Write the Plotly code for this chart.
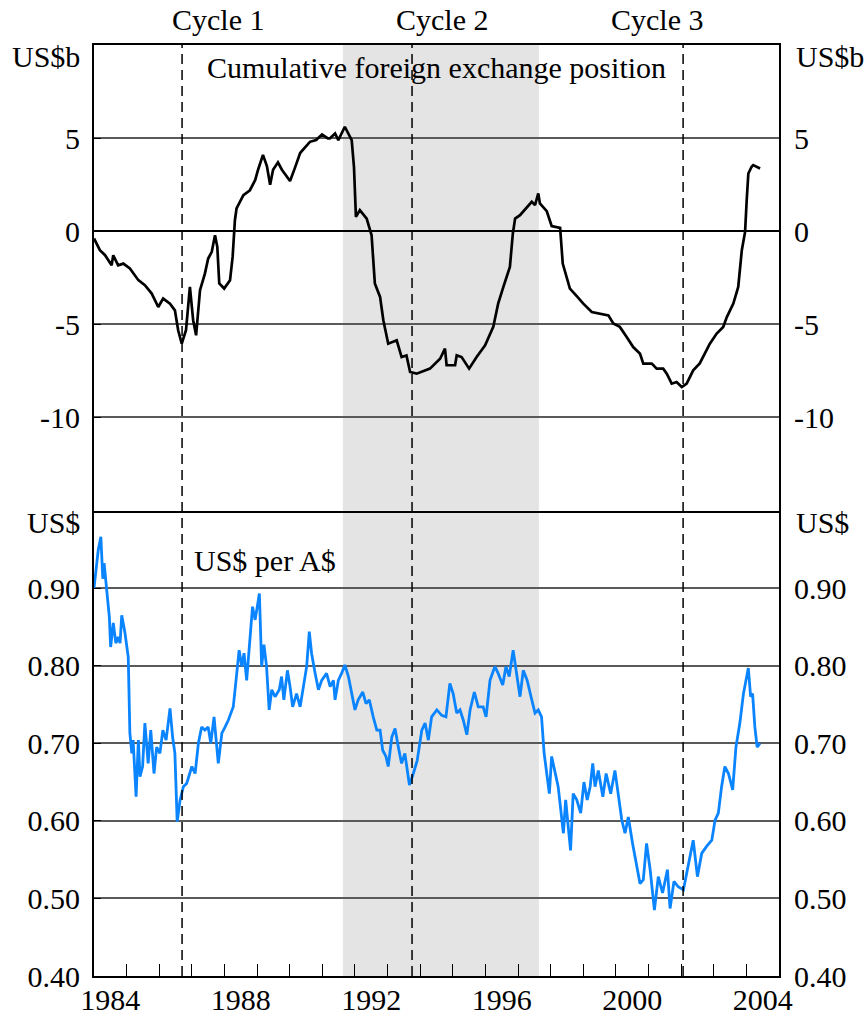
import plotly.graph_objects as go
from plotly.subplots import make_subplots

# ---------------- data ----------------
fx_years = [1984.00, 1984.18, 1984.34, 1984.54, 1984.59, 1984.74, 1984.90, 1985.10, 1985.36, 1985.56,
            1985.77, 1985.97, 1986.12, 1986.33, 1986.48, 1986.58, 1986.69, 1986.82, 1986.94, 1987.04,
            1987.13, 1987.25, 1987.40, 1987.50, 1987.61, 1987.71, 1987.78, 1987.84, 1987.99, 1988.17,
            1988.25, 1988.32, 1988.37, 1988.58, 1988.78, 1988.94, 1989.03, 1989.18, 1989.30, 1989.40,
            1989.49, 1989.64, 1989.76, 1990.01, 1990.16, 1990.32, 1990.47, 1990.62, 1990.81, 1990.99,
            1991.17, 1991.23, 1991.39, 1991.49, 1991.69, 1991.90, 1991.97, 1992.03, 1992.15, 1992.36,
            1992.51, 1992.61, 1992.77, 1992.87, 1993.02, 1993.28, 1993.43, 1993.58, 1993.69, 1993.89,
            1994.30, 1994.61, 1994.76, 1994.81, 1995.07, 1995.12, 1995.27, 1995.50, 1995.73, 1995.99,
            1996.24, 1996.39, 1996.55, 1996.75, 1996.84, 1996.91, 1997.06, 1997.27, 1997.42, 1997.52,
            1997.62, 1997.67, 1997.88, 1998.03, 1998.29, 1998.37, 1998.59, 1998.80, 1999.00, 1999.26,
            1999.51, 1999.77, 1999.92, 2000.12, 2000.33, 2000.53, 2000.74, 2000.84, 2001.10, 2001.25,
            2001.45, 2001.56, 2001.71, 2001.86, 2002.02, 2002.17, 2002.37, 2002.57, 2002.88, 2003.09,
            2003.29, 2003.40, 2003.60, 2003.75, 2003.86, 2003.96, 2004.01, 2004.06, 2004.16, 2004.21,
            2004.42]
fx_position = [-0.39, -1.02, -1.29, -1.83, -1.29, -1.83, -1.74, -2.00, -2.63, -2.90,
               -3.35, -4.07, -3.62, -3.89, -4.25, -5.32, -6.04, -5.32, -2.99, -4.78,
               -5.59, -3.17, -2.28, -1.47, -1.11, -0.22, -0.84, -2.81, -3.08, -2.63,
               -1.38, 0.59, 1.22, 1.94, 2.20, 2.74, 3.30, 4.10, 3.50, 2.50,
               3.30, 3.70, 3.30, 2.70, 3.40, 4.20, 4.50, 4.80, 4.90, 5.20,
               4.98, 4.98, 5.25, 4.89, 5.61, 4.89, 3.46, 0.77, 1.13, 0.68,
               -0.22, -2.81, -3.53, -4.78, -6.04, -5.86, -6.76, -6.67, -7.56, -7.65,
               -7.38, -6.85, -6.31, -7.20, -7.20, -6.67, -6.76, -7.38, -6.76, -6.13,
               -5.14, -3.89, -2.99, -1.92, -0.13, 0.68, 0.86, 1.31, 1.58, 1.40,
               2.03, 1.49, 1.08, 0.28, 0.18, -1.74, -3.08, -3.49, -3.89, -4.34,
               -4.43, -4.52, -4.96, -5.14, -5.68, -6.22, -6.58, -7.11, -7.11, -7.38,
               -7.38, -7.65, -8.19, -8.10, -8.37, -8.19, -7.47, -7.10, -6.04, -5.50,
               -5.14, -4.61, -3.89, -2.99, -1.02, -0.04, 1.67, 3.10, 3.46, 3.55,
               3.37]

aud_years = [1984.00, 1984.08, 1984.13, 1984.21, 1984.27, 1984.31, 1984.39, 1984.47, 1984.51, 1984.59,
             1984.67, 1984.74, 1984.80, 1984.85, 1984.95, 1985.05, 1985.10, 1985.16, 1985.20, 1985.29,
             1985.36, 1985.41, 1985.49, 1985.56, 1985.66, 1985.74, 1985.84, 1985.92, 1986.02, 1986.11,
             1986.21, 1986.33, 1986.41, 1986.48, 1986.55, 1986.64, 1986.74, 1986.84, 1987.00, 1987.10,
             1987.20, 1987.30, 1987.40, 1987.50, 1987.58, 1987.68, 1987.81, 1987.92, 1988.02, 1988.12,
             1988.27, 1988.37, 1988.45, 1988.53, 1988.60, 1988.68, 1988.78, 1988.86, 1988.94, 1988.99,
             1989.07, 1989.14, 1989.21, 1989.29, 1989.37, 1989.45, 1989.55, 1989.68, 1989.75, 1989.82,
             1989.93, 1990.01, 1990.09, 1990.21, 1990.32, 1990.42, 1990.52, 1990.60, 1990.67, 1990.78,
             1990.88, 1990.98, 1991.13, 1991.24, 1991.34, 1991.39, 1991.49, 1991.59, 1991.69, 1991.80,
             1991.90, 1992.00, 1992.10, 1992.24, 1992.34, 1992.44, 1992.56, 1992.67, 1992.77, 1992.85,
             1992.95, 1993.02, 1993.13, 1993.23, 1993.33, 1993.43, 1993.53, 1993.67, 1993.79, 1993.91,
             1994.05, 1994.15, 1994.25, 1994.35, 1994.51, 1994.66, 1994.79, 1994.91, 1995.01, 1995.12,
             1995.22, 1995.32, 1995.43, 1995.53, 1995.66, 1995.78, 1995.93, 1996.02, 1996.14, 1996.29,
             1996.39, 1996.53, 1996.63, 1996.73, 1996.85, 1996.96, 1997.06, 1997.16, 1997.28, 1997.42,
             1997.52, 1997.62, 1997.72, 1997.80, 1997.88, 1997.96, 1998.03, 1998.13, 1998.23, 1998.39,
             1998.46, 1998.54, 1998.61, 1998.69, 1998.80, 1998.92, 1999.02, 1999.12, 1999.21, 1999.29,
             1999.36, 1999.46, 1999.60, 1999.70, 1999.84, 1999.97, 2000.07, 2000.18, 2000.28, 2000.38,
             2000.51, 2000.64, 2000.74, 2000.84, 2000.94, 2001.05, 2001.18, 2001.30, 2001.43, 2001.58,
             2001.66, 2001.78, 2001.91, 2002.07, 2002.22, 2002.37, 2002.50, 2002.63, 2002.78, 2002.94,
             2003.04, 2003.14, 2003.24, 2003.34, 2003.45, 2003.58, 2003.68, 2003.80, 2003.91, 2003.99,
             2004.06, 2004.13, 2004.19, 2004.26, 2004.33, 2004.42]
aud_usd = [0.900, 0.936, 0.949, 0.966, 0.912, 0.932, 0.893, 0.863, 0.824, 0.855,
           0.829, 0.837, 0.829, 0.865, 0.842, 0.811, 0.713, 0.687, 0.704, 0.631,
           0.704, 0.657, 0.670, 0.726, 0.674, 0.717, 0.661, 0.695, 0.687, 0.717,
           0.704, 0.745, 0.708, 0.687, 0.599, 0.627, 0.644, 0.648, 0.670, 0.661,
           0.700, 0.721, 0.717, 0.721, 0.700, 0.734, 0.674, 0.713, 0.721, 0.730,
           0.747, 0.786, 0.820, 0.799, 0.816, 0.781, 0.829, 0.876, 0.859, 0.872,
           0.893, 0.799, 0.827, 0.799, 0.743, 0.769, 0.760, 0.769, 0.786, 0.756,
           0.794, 0.773, 0.747, 0.764, 0.747, 0.773, 0.799, 0.844, 0.816, 0.790,
           0.769, 0.781, 0.790, 0.773, 0.781, 0.756, 0.781, 0.790, 0.801, 0.786,
           0.764, 0.743, 0.756, 0.766, 0.751, 0.756, 0.734, 0.717, 0.717, 0.691,
           0.683, 0.670, 0.708, 0.719, 0.695, 0.674, 0.687, 0.646, 0.661, 0.678,
           0.717, 0.726, 0.704, 0.734, 0.743, 0.736, 0.734, 0.777, 0.764, 0.739,
           0.743, 0.730, 0.711, 0.743, 0.766, 0.747, 0.747, 0.734, 0.781, 0.799,
           0.790, 0.775, 0.799, 0.786, 0.820, 0.790, 0.760, 0.794, 0.781, 0.756,
           0.739, 0.743, 0.734, 0.687, 0.661, 0.635, 0.683, 0.661, 0.644, 0.584,
           0.627, 0.592, 0.562, 0.635, 0.627, 0.610, 0.650, 0.627, 0.644, 0.674,
           0.644, 0.665, 0.631, 0.661, 0.635, 0.665, 0.635, 0.601, 0.584, 0.605,
           0.571, 0.541, 0.519, 0.524, 0.571, 0.537, 0.485, 0.528, 0.507, 0.537,
           0.487, 0.522, 0.515, 0.511, 0.541, 0.575, 0.528, 0.558, 0.567, 0.575,
           0.601, 0.610, 0.644, 0.670, 0.661, 0.640, 0.695, 0.726, 0.764, 0.781,
           0.797, 0.760, 0.764, 0.721, 0.695, 0.700]

cycle_years = [1986.70, 1993.75, 2002.06]
cycle_labels = ["Cycle 1", "Cycle 2", "Cycle 3"]
cycle_label_years = [1987.80, 1994.67, 2001.26]
shade_start, shade_end = 1991.63, 1997.64

top_tickvals = [5, 0, -5, -10]
top_ticktext = ["5", "0", "-5", "-10"]
bot_tickvals = [0.9, 0.8, 0.7, 0.6, 0.5, 0.4]
bot_ticktext = ["0.90", "0.80", "0.70", "0.60", "0.50", "0.40"]
year_labels = [1984, 1988, 1992, 1996, 2000, 2004]
year_ticks = list(range(1985, 2005))

# ---------------- figure ----------------
FONT = "Liberation Serif"
FS = 30
GRID = "#5a5a5a"

fig = make_subplots(rows=2, cols=1, shared_xaxes=True, vertical_spacing=0)

fig.add_trace(go.Scatter(x=fx_years, y=fx_position, mode="lines",
                         line=dict(color="black", width=2.7), showlegend=False,
                         hoverinfo="skip"), row=1, col=1)
fig.add_trace(go.Scatter(x=aud_years, y=aud_usd, mode="lines",
                         line=dict(color="#0a84ff", width=2.8), showlegend=False,
                         hoverinfo="skip"), row=2, col=1)
# empty traces so the right-hand mirror axes get drawn
fig.add_trace(go.Scatter(x=[], y=[], xaxis="x", yaxis="y3", showlegend=False,
                         hoverinfo="skip"))
fig.add_trace(go.Scatter(x=[], y=[], xaxis="x2", yaxis="y4", showlegend=False,
                         hoverinfo="skip"))

common_x = dict(range=[1984, 2005], showline=True, linecolor="black", linewidth=2,
                showgrid=False, zeroline=False, automargin=False)
# top x axis: line at panel bottom (divider) and mirrored at the top
fig.update_xaxes(**common_x, mirror=True, showticklabels=False, ticks="", row=1, col=1)
# bottom x axis: only its own bottom line (divider comes from the top axis)
fig.update_xaxes(**common_x, mirror=False, tickmode="array",
                 tickvals=[y + 0.5 for y in year_labels],
                 ticktext=[str(y) for y in year_labels],
                 ticks="", ticklabelstandoff=-4,
                 minor=dict(tickmode="array", tickvals=year_ticks, ticks="inside",
                            ticklen=12, tickcolor="black", tickwidth=1.2, showgrid=False),
                 row=2, col=1)

common_y = dict(showline=True, linecolor="black", linewidth=2, mirror=True,
                showgrid=True, gridcolor=GRID, gridwidth=1.5, automargin=False,
                ticks="inside", ticklen=7, tickcolor="black", ticklabelstandoff=6)
fig.update_yaxes(**common_y, range=[-15, 10], tickmode="array",
                 tickvals=top_tickvals, ticktext=top_ticktext,
                 zeroline=True, zerolinecolor="black", zerolinewidth=2, row=1, col=1)
fig.update_yaxes(**common_y, range=[0.4, 1.0], tickmode="array",
                 tickvals=bot_tickvals, ticktext=bot_ticktext,
                 zeroline=False, row=2, col=1)

fig.update_layout(
    yaxis3=dict(overlaying="y", side="right", anchor="x", range=[-15, 10],
                tickmode="array", tickvals=top_tickvals, ticktext=top_ticktext,
                showgrid=False, zeroline=False, showline=False, ticks="",
                ticklabelstandoff=14, automargin=False),
    yaxis4=dict(overlaying="y2", side="right", anchor="x2", range=[0.4, 1.0],
                tickmode="array", tickvals=bot_tickvals, ticktext=bot_ticktext,
                showgrid=False, zeroline=False, showline=False, ticks="",
                ticklabelstandoff=14, automargin=False),
)

shapes = []
for xr, yr in (("x", "y domain"), ("x2", "y2 domain")):
    shapes.append(dict(type="rect", xref=xr, yref=yr, x0=shade_start, x1=shade_end,
                       y0=0, y1=1, fillcolor="#e4e4e4", line=dict(width=0), layer="below"))
for cy in cycle_years:
    shapes.append(dict(type="line", xref="x", yref="paper", x0=cy, x1=cy, y0=0, y1=1,
                       line=dict(color="black", width=1.5, dash="10px,6px"), layer="above"))

annotations = []
for lbl, lx in zip(cycle_labels, cycle_label_years):
    annotations.append(dict(text=lbl, x=lx, xref="x", y=20, yref="paper",
                            showarrow=False, xanchor="center", yanchor="middle"))
anns_px = [
    ("US$b", 82, 56, "right"),
    ("US$b", 794, 56, "left"),
    ("US$", 82, 522, "right"),
    ("US$", 794, 522, "left"),
    ("Cumulative foreign exchange position", 436, 68, "center"),
    ("US$ per A$", 265, 561, "center"),
]
for txt, px, py, xa in anns_px:
    annotations.append(dict(text=txt, x=px, y=py, showarrow=False, xanchor=xa,
                            yanchor="middle", xref="paper", yref="paper"))

# convert pixel positions of annotations into paper coordinates
L, R, T, B, W, H = 94, 87, 45, 42, 866, 1018
pw, ph = W - L - R, H - T - B
for a in annotations:
    if a["yref"] == "paper":
        a["y"] = (H - B - a["y"]) / ph
    if a["xref"] == "paper":
        a["x"] = (a["x"] - L) / pw

fig.update_layout(
    width=W, height=H,
    margin=dict(l=L, r=R, t=T, b=B, autoexpand=False),
    paper_bgcolor="white", plot_bgcolor="white",
    font=dict(family=FONT, size=FS, color="black"),
    shapes=shapes, annotations=annotations, showlegend=False,
)

fig.write_html("out.html", config={"displayModeBar": False},
               post_script="document.body.style.margin='0';document.body.style.overflow='hidden';")
